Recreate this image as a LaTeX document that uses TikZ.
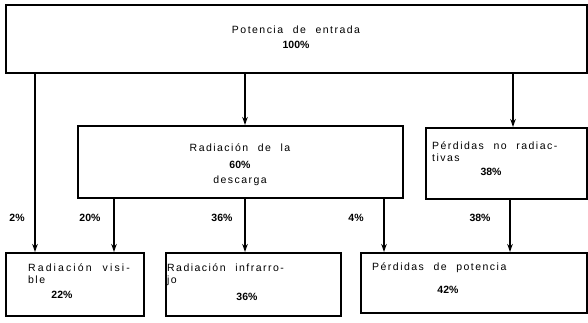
\documentclass[tikz,border=0pt]{standalone}
\usepackage{fontspec}
\setmainfont{Liberation Sans}[LetterSpace=14,WordSpace=2.2]
\usetikzlibrary{arrows.meta}
\begin{document}
\begin{tikzpicture}[x=1pt,y=-1pt,
  box/.style={draw,line width=1.5pt,rectangle,inner sep=0pt,anchor=north west},
  lbl/.style={inner sep=0pt,font=\fontsize{10.5}{12}\selectfont},
  pct/.style={inner sep=0pt,font=\fontsize{10.5}{12}\selectfont\bfseries\addfontfeatures{LetterSpace=0}},
  arr/.style={line width=1.5pt,-{Stealth[length=8pt,width=5.5pt]}}]
\useasboundingbox (0,0) rectangle (588,322);
% boxes
\node[box,minimum width=581pt,minimum height=68pt] (top) at (5,4) {};
\node[box,minimum width=325pt,minimum height=72pt] (rad) at (77,125) {};
\node[box,minimum width=161pt,minimum height=71pt] (nrad) at (425,127) {};
\node[box,minimum width=138pt,minimum height=63pt] (vis) at (5,252) {};
\node[box,minimum width=175pt,minimum height=63pt] (ir) at (165,252) {};
\node[box,minimum width=226pt,minimum height=60pt] (perd) at (360,252) {};
% texts
\node[lbl] (t1) at (296,30) {Potencia de entrada};
\node[pct] (t2) at (296,45) {100\%};
\node[lbl] (r1) at (240,148) {Radiación de la};
\node[pct] (r2) at (240,165) {60\%};
\node[lbl] (r3) at (240,181) {descarga};
\node[lbl,anchor=west] (n1) at (432,146) {Pérdidas no radiac-};
\node[lbl,anchor=west] (n2) at (432,158) {tivas};
\node[pct] (n3) at (491,172) {38\%};
\node[lbl,anchor=west,font=\fontsize{10.5}{12}\selectfont\addfontfeatures{LetterSpace=20}] (v1) at (28,268) {Radiación visi-};
\node[lbl,anchor=west] (v2) at (28,280) {ble};
\node[pct] (v3) at (62,295) {22\%};
\node[lbl,anchor=west] (i1) at (167,268) {Radiación infrarro-};
\node[lbl,anchor=west] (i2) at (167,281) {jo};
\node[pct] (i3) at (247,297) {36\%};
\node[lbl,anchor=west] (p1) at (372,268) {Pérdidas de potencia};
\node[pct] (p2) at (448,290) {42\%};
% percentage labels
\node[pct] (l2) at (17,218) {2\%};
\node[pct] (l20) at (90,218) {20\%};
\node[pct] (l36) at (222,218) {36\%};
\node[pct] (l4) at (356,218) {4\%};
\node[pct] (l38) at (480,218) {38\%};
% connectors
\draw[arr] (top.south -| 35,0) -- (vis.north -| 35,0);
\draw[arr] (top.south -| 245,0) -- (rad.north -| 245,0);
\draw[arr] (top.south -| 513,0) -- (nrad.north -| 513,0);
\draw[arr] (rad.south -| 114,0) -- (vis.north -| 114,0);
\draw[arr] (rad.south -| 245,0) -- (ir.north -| 245,0);
\draw[arr] (rad.south -| 384,0) -- (perd.north -| 384,0);
\draw[arr] (nrad.south -| 510,0) -- (perd.north -| 510,0);
\end{tikzpicture}
\end{document}
